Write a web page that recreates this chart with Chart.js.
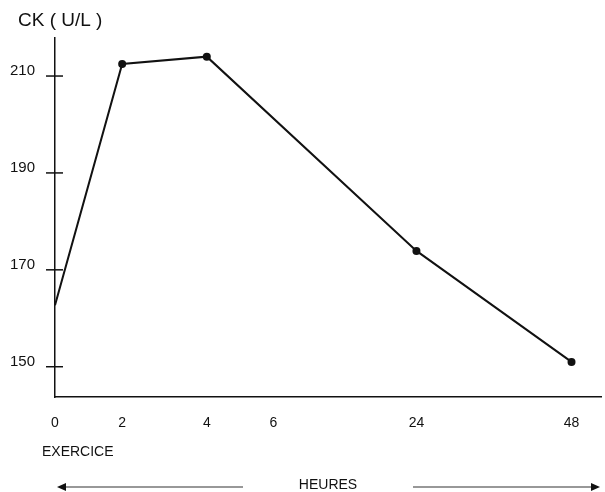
<!DOCTYPE html>
<html>
<head>
<meta charset="utf-8">
<script src="https://cdn.jsdelivr.net/npm/chart.js@4.4.0/dist/chart.umd.min.js"></script>
<style>
    html, body { margin: 0; padding: 0; background: #fff; }
    canvas { display: block; }
</style>
</head>
<body>
<canvas id="ckChart" width="605" height="492"></canvas>
<script>
// Data
const hourLabels = ['0', '2', '4', '6', '24', '48'];
const sampleHours = ['0', '2', '4', '24', '48'];
const ckValues = [162.7, 212.5, 214, 173.9, 151];
const yTickValues = [150, 170, 190, 210];

// Schematic (broken) time axis: where each hour sits along the axis
const axisStops = { '0': 0, '2': 12.3, '4': 27.8, '6': 40, '24': 66.2, '48': 94.6 };

const ink = '#111';
const fontFamily = '"Liberation Sans", Arial, sans-serif';

// Y tick marks that cross the axis line
const crossTicks = {
    id: 'crossTicks',
    afterDraw(chart) {
        const yScale = chart.scales.y;
        const left = chart.chartArea.left;
        const ctx = chart.ctx;
        ctx.save();
        ctx.strokeStyle = ink;
        ctx.lineWidth = 1.5;
        yScale.ticks.forEach(t => {
            const py = yScale.getPixelForValue(t.value);
            ctx.beginPath();
            ctx.moveTo(left - 9, py);
            ctx.lineTo(left + 8, py);
            ctx.stroke();
        });
        ctx.restore();
    }
};

// Unit label, "EXERCICE" note and the arrows around "HEURES"
const notes = {
    id: 'notes',
    afterDraw(chart) {
        const ctx = chart.ctx;
        const area = chart.chartArea;
        const ay = 487;

        function arrow(fromX, toX) {
            const dir = Math.sign(toX - fromX);
            ctx.beginPath();
            ctx.moveTo(fromX, ay);
            ctx.lineTo(toX - dir * 6, ay);
            ctx.stroke();
            ctx.beginPath();
            ctx.moveTo(toX, ay);
            ctx.lineTo(toX - dir * 9, ay - 4);
            ctx.lineTo(toX - dir * 9, ay + 4);
            ctx.closePath();
            ctx.fill();
        }

        ctx.save();
        ctx.fillStyle = ink;
        ctx.strokeStyle = '#333';
        ctx.lineWidth = 1.2;
        ctx.textAlign = 'left';
        ctx.textBaseline = 'middle';

        ctx.font = '19px ' + fontFamily;
        ctx.fillText('CK ( U/L )', area.left - 37, 21);

        ctx.font = '14px ' + fontFamily;
        ctx.fillText('EXERCICE', area.left - 13, 452);

        arrow(area.left + 188, area.left + 2);
        arrow(area.left + 358, area.right - 1);
        ctx.restore();
    }
};

const ctx = document.getElementById('ckChart').getContext('2d');

new Chart(ctx, {
    type: 'line',
    data: {
        datasets: [{
            data: sampleHours.map((h, i) => ({ x: axisStops[h], y: ckValues[i] })),
            borderColor: ink,
            borderWidth: 2,
            pointRadius: ckValues.map((v, i) => i === 0 ? 0 : 4),
            pointBackgroundColor: ink,
            pointBorderWidth: 0,
            tension: 0,
            fill: false
        }]
    },
    options: {
        responsive: false,
        animation: false,
        layout: {
            padding: { left: 0, right: 0, top: 38, bottom: 0 }
        },
        plugins: {
            legend: { display: false },
            tooltip: { enabled: false },
            title: { display: false }
        },
        scales: {
            x: {
                type: 'linear',
                min: 0,
                max: 100,
                grid: { display: false },
                border: { display: true, color: ink, width: 1.5 },
                afterBuildTicks: scale => {
                    scale.ticks = hourLabels.map(h => ({ value: axisStops[h] }));
                },
                afterFit: scale => { scale.height = 95; },
                ticks: {
                    autoSkip: false,
                    maxRotation: 0,
                    padding: 10,
                    color: ink,
                    font: { family: fontFamily, size: 14 },
                    callback: (value, index) => hourLabels[index]
                },
                title: {
                    display: true,
                    text: 'HEURES',
                    color: ink,
                    font: { family: fontFamily, size: 14 },
                    padding: { top: 0, bottom: -2 }
                }
            },
            y: {
                min: 143.75,
                max: 217.85,
                grid: { display: false },
                border: { display: true, color: ink, width: 1.5 },
                afterBuildTicks: scale => {
                    scale.ticks = yTickValues.map(v => ({ value: v }));
                },
                afterFit: scale => { scale.width = 55; },
                ticks: {
                    padding: 12,
                    labelOffset: -5,
                    color: ink,
                    font: { family: fontFamily, size: 15 }
                }
            }
        }
    },
    plugins: [crossTicks, notes]
});
</script>
</body>
</html>
